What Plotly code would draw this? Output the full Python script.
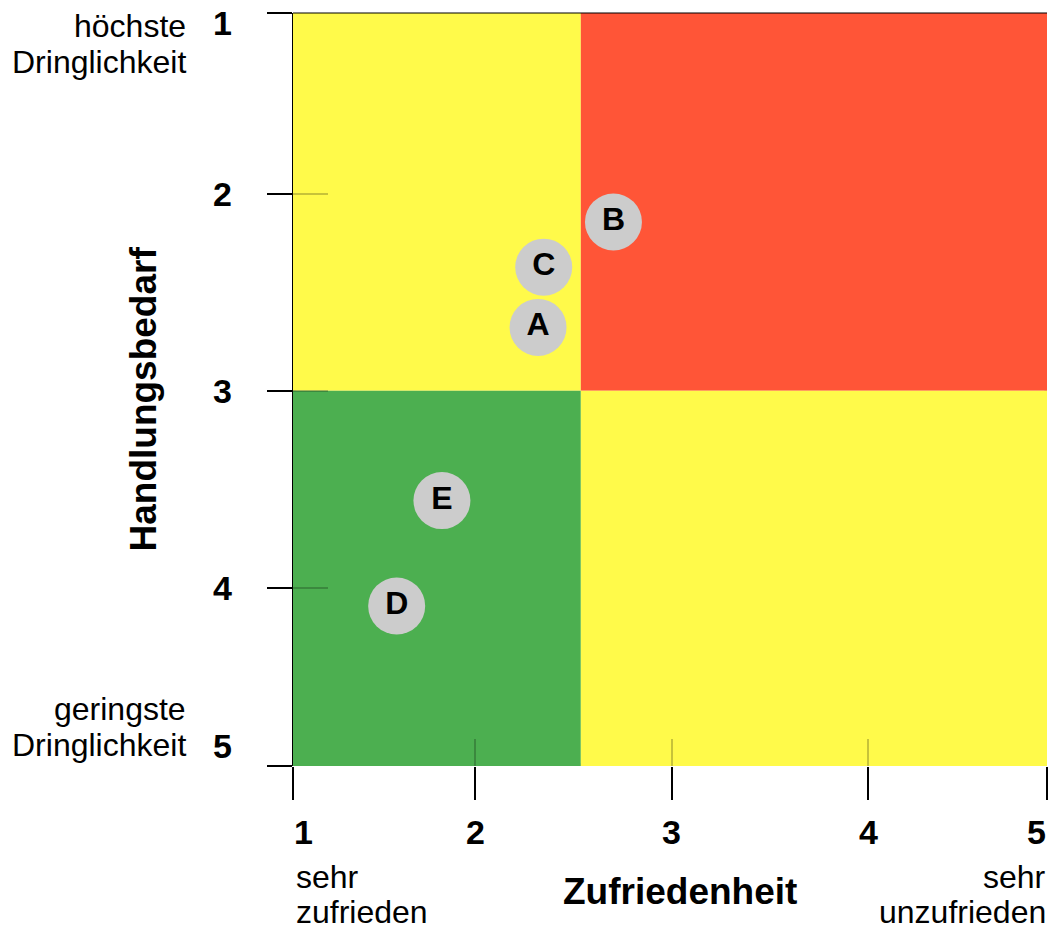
import plotly.graph_objects as go

# ---- data ----
LABELS = ["A", "B", "C", "D", "E"]
ZUFRIEDENHEIT = [2.30, 2.70, 2.33, 1.55, 1.79]      # x
HANDLUNGSBEDARF = [2.67, 2.11, 2.35, 4.15, 3.59]    # y

TICK_TEXT = ["1", "2", "3", "4", "5"]
X_TICKS = [1, 1.966, 3.008, 4.052, 5]
Y_TICKS = [1, 1.963, 3.007, 4.053, 5]

X_SPLIT = 2.527
Y_SPLIT = 3.007
QUAD_X0 = [1, X_SPLIT, 1, X_SPLIT]
QUAD_X1 = [X_SPLIT, 5, X_SPLIT, 5]
QUAD_Y0 = [1, 1, Y_SPLIT, Y_SPLIT]
QUAD_Y1 = [Y_SPLIT, Y_SPLIT, 5, 5]
QUAD_COLORS = ["#fffa4a", "#ff5537", "#4caf50", "#fffa4a"]

TOP_LABEL = ["höchste", "Dringlichkeit"]
BOTTOM_LABEL = ["geringste", "Dringlichkeit"]
LEFT_X_LABEL = ["sehr", "zufrieden"]
RIGHT_X_LABEL = ["sehr", "unzufrieden"]
X_TITLE = "Zufriedenheit"
Y_TITLE = "Handlungsbedarf"

FONT = "Liberation Sans, Arial, sans-serif"
TINT = "rgba(0,0,0,0.22)"

fig = go.Figure()

fig.add_trace(go.Scatter(
    x=ZUFRIEDENHEIT, y=HANDLUNGSBEDARF, text=LABELS,
    mode="markers+text", textposition="middle center",
    marker=dict(size=57, color="#cccccc", line=dict(width=0)),
    textfont=dict(family=FONT, size=32, color="black", weight="bold"),
    showlegend=False, hoverinfo="skip", cliponaxis=False,
))
fig.add_trace(go.Scatter(x=[None], y=[None], xaxis="x2", yaxis="y2",
                         showlegend=False, hoverinfo="skip"))

shapes = []
for x0, x1, y0, y1, c in zip(QUAD_X0, QUAD_X1, QUAD_Y0, QUAD_Y1, QUAD_COLORS):
    shapes.append(dict(type="rect", xref="x", yref="y", x0=x0, x1=x1, y0=y0, y1=y1,
                       fillcolor=c, line=dict(width=0), layer="below"))
# darker inner frame
B = 0.0035
for (x0, x1, y0, y1) in [(0, 1, 0, B), (0, 1, 1 - B, 1), (0, B, 0, 1), (1 - B, 1, 0, 1)]:
    shapes.append(dict(type="rect", xref="paper", yref="paper", x0=x0, x1=x1, y0=y0, y1=y1,
                       fillcolor=TINT, line=dict(width=0), layer="below"))
shapes.append(dict(type="line", xref="paper", yref="paper", x0=0, x1=1, y0=1, y1=1,
                   line=dict(color="black", width=1.2), layer="above"))

annotations = []
tickfont = dict(family=FONT, size=34, color="black")
n = len(TICK_TEXT)
for i, (v, t) in enumerate(zip(X_TICKS, TICK_TEXT)):
    xa = "left" if i == 0 else ("right" if i == n - 1 else "center")
    annotations.append(dict(text=f"<b>{t}</b>", x=v, xref="x", y=0, yref="paper",
                            xanchor=xa, yanchor="middle", yshift=-66, showarrow=False,
                            borderpad=0, font=tickfont))
for i, (v, t) in enumerate(zip(Y_TICKS, TICK_TEXT)):
    ya = "top" if i == 0 else ("bottom" if i == n - 1 else "middle")
    ys = 10 if i == 0 else 0
    annotations.append(dict(text=f"<b>{t}</b>", x=0, xref="paper", y=v, yref="y",
                            xanchor="right", yanchor=ya, xshift=-60, yshift=ys,
                            showarrow=False, borderpad=0, font=tickfont))

regular = dict(family=FONT, size=32, color="black")


def add_lines(lines, shifts, **kw):
    for line, s in zip(lines, shifts):
        annotations.append(dict(text=line, yshift=s, showarrow=False, borderpad=0,
                                yanchor="middle", font=regular, **kw))


add_lines(TOP_LABEL, [-13, -49], x=0, xref="paper", y=1, yref="y",
          xanchor="right", xshift=-106)
add_lines(BOTTOM_LABEL, [57, 21], x=0, xref="paper", y=5, yref="y",
          xanchor="right", xshift=-106)
add_lines(LEFT_X_LABEL, [-111, -146], x=1, xref="x", y=0, yref="paper",
          xanchor="left", xshift=2)
add_lines(RIGHT_X_LABEL, [-111, -146], x=5, xref="x", y=0, yref="paper",
          xanchor="right", xshift=0)

annotations += [
    dict(text=f"<b>{X_TITLE}</b>", x=0.5, xref="paper", y=0, yref="paper",
         xanchor="center", yanchor="middle", xshift=10, yshift=-125,
         showarrow=False, borderpad=0, font=dict(family=FONT, size=37, color="black")),
    dict(text=f"<b>{Y_TITLE}</b>", x=0, xref="paper", y=0.5, yref="paper",
         xanchor="center", yanchor="middle", xshift=-150, yshift=-10, textangle=-90,
         showarrow=False, borderpad=0, font=dict(family=FONT, size=37, color="black")),
]

axis_common = dict(showgrid=False, zeroline=False, showticklabels=False, fixedrange=True)
fig.update_layout(
    width=1048, height=935,
    margin=dict(l=293, r=1, t=13, b=169, autoexpand=False),
    paper_bgcolor="white", plot_bgcolor="white",
    xaxis=dict(range=[1, 5], tickvals=X_TICKS, ticks="outside", ticklen=33, tickwidth=2,
               tickcolor="black", showline=False, **axis_common),
    xaxis2=dict(range=[1, 5], tickvals=X_TICKS, ticks="inside", ticklen=27, tickwidth=2,
                tickcolor=TINT, overlaying="x", side="bottom", showline=False, **axis_common),
    yaxis=dict(range=[5, 1], tickvals=Y_TICKS, ticks="outside", ticklen=25, tickwidth=2,
               tickcolor="black", showline=True, linecolor="black", linewidth=1.2,
               **axis_common),
    yaxis2=dict(range=[5, 1], tickvals=Y_TICKS, ticks="inside", ticklen=35, tickwidth=2,
                tickcolor=TINT, overlaying="y", side="left", showline=False, **axis_common),
    shapes=shapes, annotations=annotations,
)

fig.write_html("out.html", config={"displayModeBar": False},
               post_script="document.body.style.margin='0';")
